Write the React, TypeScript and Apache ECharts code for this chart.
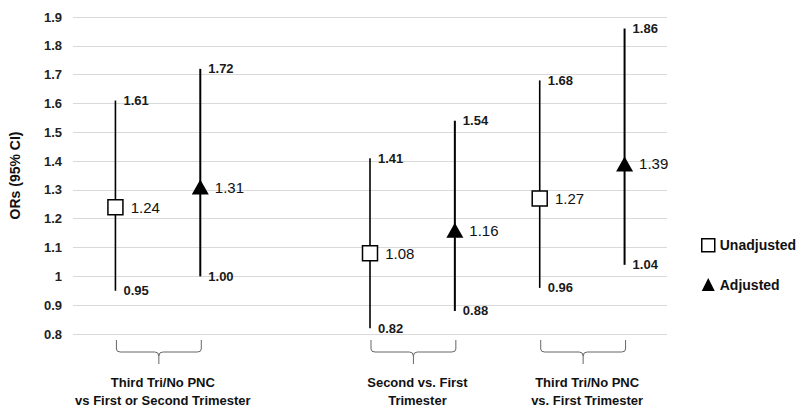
import React, { useEffect, useRef } from "react";
import * as echarts from "echarts";

const groupNames = [
  ["Third Tri/No PNC", "vs First or Second Trimester"],
  ["Second vs. First", "Trimester"],
  ["Third Tri/No PNC", "vs. First Trimester"],
];
const groupSlots = [1, 4, 6];
const unadjEst = [1.24, 1.08, 1.27];
const unadjLow = [0.95, 0.82, 0.96];
const unadjHigh = [1.61, 1.41, 1.68];
const adjEst = [1.31, 1.16, 1.39];
const adjLow = [1.0, 0.88, 1.04];
const adjHigh = [1.72, 1.54, 1.86];
const yTicks = { min: 0.8, max: 1.9, step: 0.1 };

const FONT = '"Liberation Sans", Arial, sans-serif';
const OFFSET = 0.5;

export default function App() {
  const ref = useRef<HTMLDivElement>(null);
  useEffect(() => {
    if (!ref.current) return;
    const chart = echarts.init(ref.current, undefined, { renderer: "svg" });

    const errData = (est: number[], lo: number[], hi: number[], sign: number) =>
      est.map((_, i) => [groupSlots[i] + sign * OFFSET, lo[i], hi[i]]);

    const errSeries = (name: string, data: number[][], width: number) => ({
      type: "custom",
      name: name + "CI",
      silent: true,
      clip: false,
      data,
      encode: { x: 0, y: [1, 2] },
      renderItem: (_p: any, api: any) => {
        const x = api.value(0);
        const lo = api.value(1);
        const hi = api.value(2);
        const a = api.coord([x, lo]);
        const b = api.coord([x, hi]);
        const txt = (v: number, y: number) => ({
          type: "text",
          x: a[0] + 8,
          y,
          style: {
            text: v.toFixed(2),
            fill: "#1a1a1a",
            font: `bold 13px ${FONT}`,
            align: "left",
            verticalAlign: "middle",
          },
        });
        return {
          type: "group",
          children: [
            {
              type: "line",
              shape: { x1: a[0], y1: a[1], x2: b[0], y2: b[1] },
              style: { stroke: "#000", lineWidth: width },
            },
            txt(hi, b[1]),
            txt(lo, a[1]),
          ],
        };
      },
      z: 2,
    });

    const braceData = groupSlots.map((s, i) => [s, i]);

    const option: any = {
      animation: false,
      backgroundColor: "#fff",
      grid: { left: 73, right: 133, top: 17, bottom: 77 },
      xAxis: {
        type: "value",
        min: 0,
        max: 7,
        show: false,
      },
      yAxis: {
        type: "value",
        min: yTicks.min,
        max: yTicks.max,
        interval: yTicks.step,
        name: "ORs (95% CI)",
        nameLocation: "middle",
        nameGap: 51,
        nameTextStyle: { fontFamily: FONT, fontWeight: "bold", fontSize: 14, color: "#111" },
        axisLine: { show: false },
        axisTick: { show: false },
        axisLabel: {
          margin: 11,
          fontFamily: FONT,
          fontWeight: "bold",
          fontSize: 13,
          color: "#222",
          formatter: (v: number) => String(parseFloat(v.toFixed(1))),
        },
        splitLine: { lineStyle: { color: "#d9d9d9", width: 1 } },
      },
      legend: {
        orient: "vertical",
        left: 696,
        top: 233,
        itemGap: 25,
        itemWidth: 13,
        itemHeight: 13,
        textStyle: { fontFamily: FONT, fontWeight: "bold", fontSize: 14, color: "#111" },
        data: [
          { name: "Unadjusted", icon: "rect", itemStyle: { color: "#fff", borderColor: "#000", borderWidth: 1.5 } },
          { name: "Adjusted", icon: "triangle", itemStyle: { color: "#000" } },
        ],
      },
      series: [
        errSeries("Unadjusted", errData(unadjEst, unadjLow, unadjHigh, -1), 1.6),
        errSeries("Adjusted", errData(adjEst, adjLow, adjHigh, 1), 2),
        {
          type: "scatter",
          name: "Unadjusted",
          data: unadjEst.map((v, i) => [groupSlots[i] - OFFSET, v]),
          symbol: "rect",
          symbolSize: 15,
          itemStyle: { color: "#fff", borderColor: "#000", borderWidth: 1.5, opacity: 1 },
          label: {
            show: true,
            position: "right",
            distance: 7,
            formatter: (p: any) => p.value[1].toFixed(2),
            fontFamily: FONT,
            fontSize: 15,
            color: "#111",
          },
          z: 5,
        },
        {
          type: "scatter",
          name: "Adjusted",
          data: adjEst.map((v, i) => [groupSlots[i] + OFFSET, v]),
          symbol: "triangle",
          symbolSize: [17, 15],
          itemStyle: { color: "#000", opacity: 1 },
          label: {
            show: true,
            position: "right",
            distance: 6,
            formatter: (p: any) => p.value[1].toFixed(2),
            fontFamily: FONT,
            fontSize: 15,
            color: "#111",
          },
          z: 5,
        },
        {
          type: "custom",
          name: "braces",
          silent: true,
          clip: false,
          data: braceData,
          encode: { x: 0 },
          renderItem: (_p: any, api: any) => {
            const s = api.value(0);
            const idx = api.value(1);
            const l = api.coord([s - OFFSET, yTicks.min]);
            const r = api.coord([s + OFFSET, yTicks.min]);
            const c = api.coord([s, yTicks.min]);
            const base = l[1];
            const x1 = l[0] + 1;
            const x2 = r[0] + 1;
            const cx = (x1 + x2) / 2;
            const t = base + 6;
            const h = base + 18;
            const tip = base + 30;
            const d =
              `M${x1} ${t} L${x1} ${h - 3} Q${x1} ${h} ${x1 + 4} ${h} L${cx - 4} ${h} Q${cx} ${h} ${cx} ${h + 4} L${cx} ${tip} ` +
              `M${cx} ${h + 4} Q${cx} ${h} ${cx + 4} ${h} L${x2 - 4} ${h} Q${x2} ${h} ${x2} ${h - 3} L${x2} ${t}`;
            const names = groupNames[idx];
            return {
              type: "group",
              children: [
                {
                  type: "path",
                  shape: { pathData: d },
                  style: { stroke: "#666", fill: "none", lineWidth: 1 },
                },
                ...names.map((n, k) => ({
                  type: "text",
                  x: c[0] + 5,
                  y: base + 48 + k * 18,
                  style: {
                    text: n,
                    fill: "#111",
                    font: `bold 13px ${FONT}`,
                    align: "center",
                    verticalAlign: "middle",
                  },
                })),
              ],
            };
          },
        },
      ],
    };
    chart.setOption(option);
    return () => chart.dispose();
  }, []);
  return <div ref={ref} style={{ width: 800, height: 411, position: "absolute", left: 0, top: 0 }} />;
}
